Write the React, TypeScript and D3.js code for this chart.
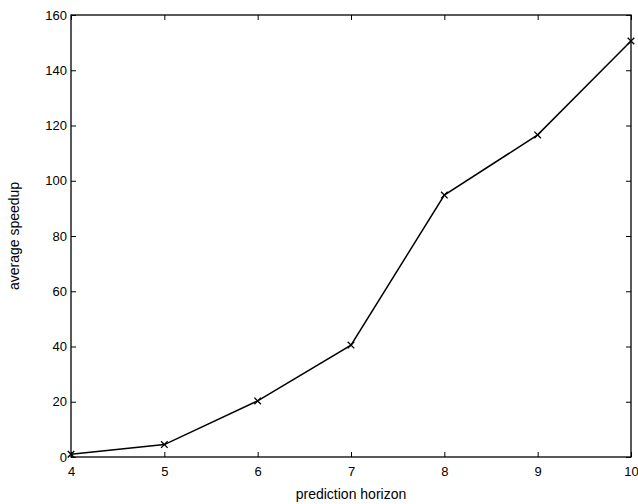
import React, { useEffect, useRef } from 'react';
import * as d3 from 'd3';

const horizons = [4, 5, 6, 7, 8, 9, 10];
const speedups = [1, 4.5, 20.3, 40.5, 94.8, 116.6, 150.6];
const xTicks = [4, 5, 6, 7, 8, 9, 10];
const yTicks = [0, 20, 40, 60, 80, 100, 120, 140, 160];

const App = () => {
  const svgRef = useRef<SVGSVGElement>(null);

  useEffect(() => {
    const width = 638;
    const height = 504;
    const svg = d3.select(svgRef.current).attr('width', width).attr('height', height);
    svg.selectAll('*').remove();

    const margin = { top: 15, right: 7, bottom: 47, left: 71 };
    const innerWidth = width - margin.left - margin.right;
    const innerHeight = height - margin.top - margin.bottom;
    const g = svg.append('g').attr('transform', `translate(${margin.left},${margin.top})`);
    const font = 'Helvetica, Arial, "Liberation Sans", sans-serif';

    const x = d3.scaleLinear().domain([4, 10]).range([0, innerWidth]);
    const y = d3.scaleLinear().domain([0, 160]).range([innerHeight, 0]);

    // inward ticks on all four sides, like a matlab box
    const styleAxis = (sel) => {
      sel.select('.domain').remove();
      sel.selectAll('line').attr('stroke', '#000').attr('stroke-width', 1);
      sel.selectAll('text').attr('fill', '#000').style('font-family', font).style('font-size', '13px');
    };

    g.append('g')
      .attr('transform', `translate(0,${innerHeight})`)
      .call(d3.axisBottom(x).tickValues(xTicks).tickFormat(d3.format('d')).tickSizeInner(-5).tickSizeOuter(0).tickPadding(10))
      .call(styleAxis);
    g.append('g')
      .call(d3.axisTop(x).tickValues(xTicks).tickFormat(() => '').tickSizeInner(-5).tickSizeOuter(0))
      .call(styleAxis);
    g.append('g')
      .call(d3.axisLeft(y).tickValues(yTicks).tickFormat(d3.format('d')).tickSizeInner(-5).tickSizeOuter(0).tickPadding(4))
      .call(styleAxis);
    g.append('g')
      .attr('transform', `translate(${innerWidth},0)`)
      .call(d3.axisRight(y).tickValues(yTicks).tickFormat(() => '').tickSizeInner(-5).tickSizeOuter(0))
      .call(styleAxis);

    g.append('rect')
      .attr('width', innerWidth)
      .attr('height', innerHeight)
      .attr('fill', 'none')
      .attr('stroke', '#000')
      .attr('stroke-width', 1.3);

    const pts = horizons.map((h, i) => [h, speedups[i]] as [number, number]);
    const line = d3.line().x(d => x(d[0])).y(d => y(d[1]));
    g.append('path')
      .datum(pts)
      .attr('d', line)
      .attr('fill', 'none')
      .attr('stroke', '#000')
      .attr('stroke-width', 1.5);

    const cross = d3.symbol().type(d3.symbolTimes).size(30);
    g.selectAll('.mark')
      .data(pts)
      .enter()
      .append('path')
      .attr('class', 'mark')
      .attr('transform', d => `translate(${x(d[0])},${y(d[1])})`)
      .attr('d', cross)
      .attr('fill', 'none')
      .attr('stroke', '#000')
      .attr('stroke-width', 1.3);

    svg.append('text')
      .attr('x', margin.left + innerWidth / 2)
      .attr('y', 499)
      .attr('text-anchor', 'middle')
      .style('font-family', font)
      .style('font-size', '14px')
      .text('prediction horizon');

    svg.append('text')
      .attr('transform', `translate(19,${margin.top + innerHeight / 2}) rotate(-90)`)
      .attr('text-anchor', 'middle')
      .style('font-family', font)
      .style('font-size', '14px')
      .text('average speedup');
  }, []);

  return <svg ref={svgRef} style={{ position: 'absolute', left: 0, top: 0 }}></svg>;
};

export default App;
